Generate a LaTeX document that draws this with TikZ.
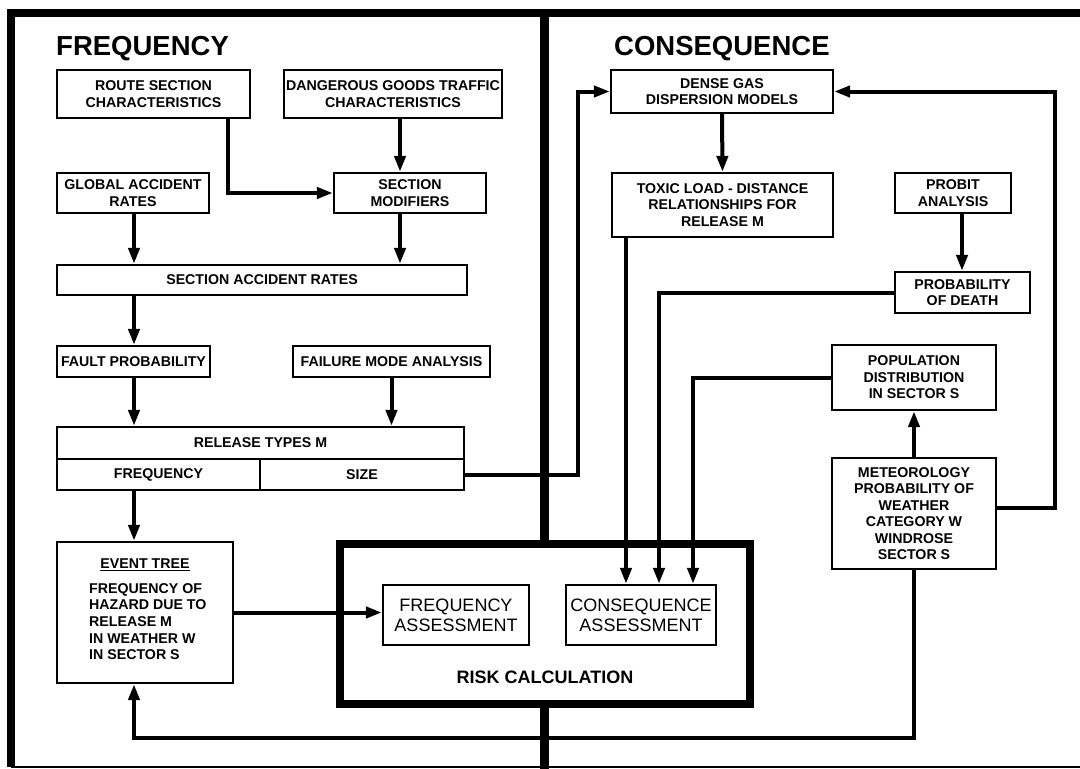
\documentclass[tikz,border=0pt]{standalone}
\usepackage{fontspec}
\setmainfont{Liberation Sans}
\usetikzlibrary{arrows.meta,calc}
\tikzset{
  box/.style={draw, line width=2.2pt, font=\bfseries\fontsize{14.2}{16.5}\selectfont, align=center, inner sep=0pt},
  lbl/.style={font=\bfseries\fontsize{14.2}{16.7}\selectfont, inner sep=0pt},
  bigbox/.style={draw, line width=2.2pt, font=\fontsize{18}{20}\selectfont, align=center, inner sep=0pt},
  title/.style={font=\bfseries\fontsize{27.5}{30}\selectfont, inner sep=0pt, anchor=base west},
  conn/.style={line width=4pt},
  arr/.style={conn, -{Triangle[length=16pt,width=11pt]}},
  frame/.style={line width=7.5pt},
}
\begin{document}
\begin{tikzpicture}[x=1pt,y=-1pt]
\useasboundingbox (0,0) rectangle (1080,769);
% frame
\draw[frame] (7,13) -- (1080,13);
\draw[frame] (11,9.5) -- (11,767);
\draw[line width=2pt] (11,767) -- (1080,767);
\draw[line width=8.5pt] (544.5,13) -- (544.5,540);
\draw[line width=8.5pt] (544.5,707) -- (544.5,769);
% titles
\node[title] (tf) at (56,55) {FREQUENCY};
\node[title] (tc) at (614,55) {CONSEQUENCE};
% frequency side boxes
\node[box, minimum width=193pt, minimum height=48pt] (route) at (153.5,94) {ROUTE SECTION\\CHARACTERISTICS};
\node[box, minimum width=218pt, minimum height=48pt] (dgt) at (393,94) {DANGEROUS GOODS TRAFFIC\\CHARACTERISTICS};
\node[box, minimum width=152pt, minimum height=40pt] (global) at (133,193) {GLOBAL ACCIDENT\\RATES};
\node[box, minimum width=152pt, minimum height=40pt] (secmod) at (410,193) {SECTION\\MODIFIERS};
\node[box, minimum width=410pt, minimum height=30pt] (sar) at (262,280) {SECTION ACCIDENT RATES};
\node[box, minimum width=153pt, minimum height=31pt] (fault) at (133.5,361.5) {FAULT PROBABILITY};
\node[box, minimum width=197pt, minimum height=31pt] (failure) at (391.5,361.5) {FAILURE MODE ANALYSIS};
\node[box, minimum width=407pt, minimum height=32pt] (reltop) at (260.5,443) {RELEASE TYPES M};
\node[box, minimum width=203pt, minimum height=31pt] (relfreq) at (158.5,474.5) {FREQUENCY};
\node[box, minimum width=204pt, minimum height=31pt] (relsize) at (362,474.5) {SIZE};
\node[box, minimum width=176pt, minimum height=141pt] (event) at (145,612.5) {};
\node[lbl] (evt) at (145,565) {\underline{EVENT TREE}};
\node[lbl, anchor=north west, align=left] (evtxt) at (89,583) {FREQUENCY OF\\HAZARD DUE TO\\RELEASE M\\IN WEATHER W\\IN SECTOR S};
% risk calculation
\node[draw, line width=8pt, minimum width=409.5pt, minimum height=160pt, inner sep=0pt] (risk) at (544.75,623.5) {};
\node[bigbox, minimum width=146pt, minimum height=60pt] (freq) at (456,615) {FREQUENCY\\ASSESSMENT};
\node[bigbox, minimum width=150pt, minimum height=60pt] (cons) at (641,615) {CONSEQUENCE\\ASSESSMENT};
\node[font=\bfseries\fontsize{18}{20}\selectfont, inner sep=0pt] (risklbl) at (545,677) {RISK CALCULATION};
% consequence side boxes
\node[box, minimum width=222pt, minimum height=43pt] (dense) at (722,91.5) {DENSE GAS\\DISPERSION MODELS};
\node[box, minimum width=221pt, minimum height=64pt] (toxic) at (722.5,205) {TOXIC LOAD - DISTANCE\\RELATIONSHIPS FOR\\RELEASE M};
\node[box, minimum width=116pt, minimum height=40pt] (probit) at (953,193) {PROBIT\\ANALYSIS};
\node[box, minimum width=135pt, minimum height=41pt] (death) at (962.5,292.5) {PROBABILITY\\OF DEATH};
\node[box, minimum width=164pt, minimum height=65pt] (pop) at (914,377.5) {POPULATION\\DISTRIBUTION\\IN SECTOR S};
\node[box, minimum width=164pt, minimum height=111pt] (met) at (914,513.5) {METEOROLOGY\\PROBABILITY OF\\WEATHER\\CATEGORY W\\WINDROSE\\SECTOR S};
% helper coordinates
\coordinate (xa) at (134,0);
\coordinate (xr) at (228,0);
\coordinate (xs) at (400,0);
\coordinate (xz) at (578,0);
\coordinate (xt) at (626,0);
\coordinate (xd) at (659,0);
\coordinate (xp) at (693,0);
\coordinate (xl) at (1055,0);
\coordinate (xm) at (962,0);
\coordinate (yb) at (134,738);
% connectors, frequency side
\draw[arr] (route.south -| xr) |- (secmod.west);
\draw[arr] (dgt.south -| xs) -- (secmod.north -| xs);
\draw[arr] (global.south -| xa) -- (sar.north -| xa);
\draw[arr] (secmod.south -| xs) -- (sar.north -| xs);
\draw[arr] (sar.south -| xa) -- (fault.north -| xa);
\draw[arr] (fault.south -| xa) -- (reltop.north -| xa);
\draw[arr] (failure.south) -- (reltop.north -| failure.south);
\draw[arr] (relfreq.south -| xa) -- (event.north -| xa);
\draw[arr] (event.east) -- (event.east -| freq.west);
% connectors, consequence side
\draw[arr] (relsize.east) -- (relsize.east -| xz) |- (dense.west);
\draw[arr] (dense.south) -- (toxic.north);
\draw[arr] (toxic.south -| xt) -- (cons.north -| xt);
\draw[arr] (probit.south -| xm) -- (death.north -| xm);
\draw[arr] (death.west) -| (cons.north -| xd);
\draw[arr] (pop.west) -| (cons.north -| xp);
\draw[arr] (met.north) -- (pop.south);
\draw[arr] ([yshift=5.5pt]met.east) -| (xl |- dense.east) -- (dense.east);
\draw[arr] (met.south) |- (yb) -- (event.south -| xa);
\end{tikzpicture}
\end{document}
